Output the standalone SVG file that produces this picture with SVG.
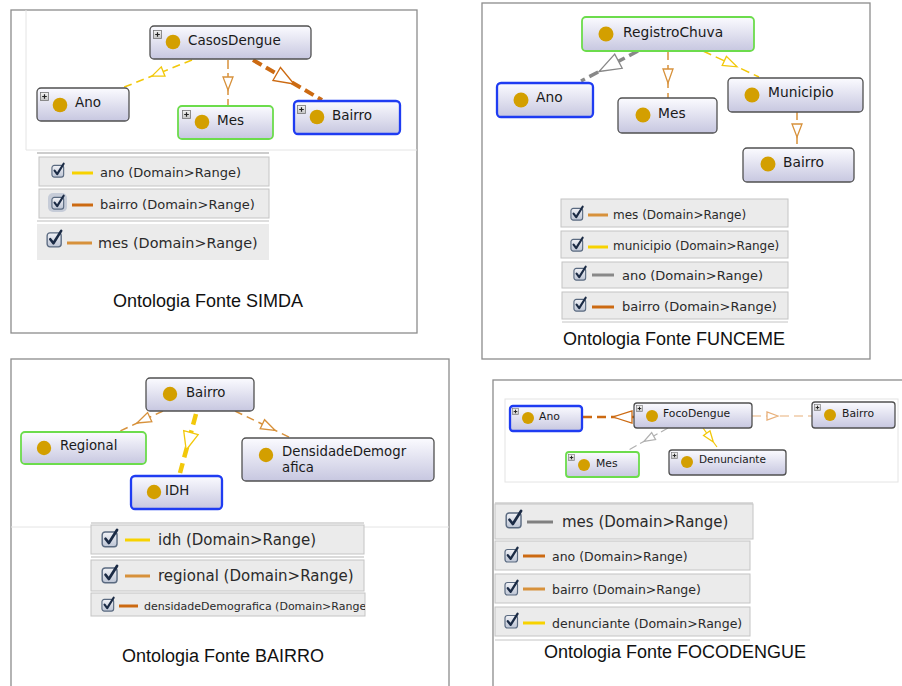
<svg xmlns="http://www.w3.org/2000/svg" xmlns:xlink="http://www.w3.org/1999/xlink" width="902" height="686" viewBox="0 0 902 686">
  <style>
    .frame { fill: #fff; stroke: #8c8c8c; stroke-width: 1.3; }
    .inner { fill: none; stroke: #e4e4e4; stroke-width: 1; }
    .box { fill: url(#nodeFill); stroke: #505050; stroke-width: 1.3; }
    .green .box { stroke: #6cdc4c; stroke-width: 1.8; }
    .blue .box { stroke: #1f3cf2; stroke-width: 2.3; }
    .dot { fill: #d39f00; }
    .lbl { font-family: "DejaVu Sans", "Liberation Sans", sans-serif; fill: #1a1a1a; }
    .row { fill: #ebebeb; stroke: #c4c4c4; stroke-width: 1; }
    .ltxt { font-family: "DejaVu Sans", "Liberation Sans", sans-serif; fill: #2a2a2a; }
    .caption { font-family: "Liberation Sans", Arial, sans-serif; font-size: 18px; fill: #111; }
    .edge { fill: none; }
    .head { fill: #fff; stroke-width: 1.3; stroke-linejoin: miter; }
    .yellow { stroke: #f2c80a; }
    .tan { stroke: #d7913b; }
    .rust { stroke: #cc6a12; }
    .gray { stroke: #888; }
    .lgray { stroke: #b0b0b0; }
    .ltan { stroke: #e8b07a; }
    .swatch { stroke-width: 3; }
  </style>
  <defs>
    <linearGradient id="nodeFill" x1="0" y1="0" x2="0" y2="1">
      <stop offset="0" stop-color="#fbfbff"/>
      <stop offset="1" stop-color="#c7c7e0"/>
    </linearGradient>
    <linearGradient id="plusFill" x1="0" y1="0" x2="0" y2="1">
      <stop offset="0" stop-color="#f4f4f4"/>
      <stop offset="1" stop-color="#c4c4c4"/>
    </linearGradient>
    <linearGradient id="cbFill" x1="0" y1="0" x2="0" y2="1">
      <stop offset="0" stop-color="#f2f3f7"/>
      <stop offset="1" stop-color="#bcc4d4"/>
    </linearGradient>
    <symbol id="plus" viewBox="0 0 9 9">
      <rect x="0.5" y="0.5" width="8" height="8" fill="url(#plusFill)" stroke="#777" stroke-width="0.8"/>
      <path d="M2.2 4.5h4.6M4.5 2.2v4.6" stroke="#222" stroke-width="1.2"/>
    </symbol>
    <symbol id="check" viewBox="0 0 16 16" overflow="visible">
      <rect x="1" y="2.5" width="12.5" height="12.5" rx="2.5" fill="url(#cbFill)" stroke="#5a6a80" stroke-width="1.2"/>
      <path d="M3.8 8.2L6.6 11.8L13.5 0.8" fill="none" stroke="#1b2b45" stroke-width="2.3" stroke-linecap="round" stroke-linejoin="round"/>
    </symbol>
    <clipPath id="clipRow">
      <rect x="91" y="593" width="274" height="23"/>
    </clipPath>
  </defs>

  <!-- panel frames -->
  <rect class="frame" x="11" y="10" width="406" height="323"/>
  <path class="inner" d="M26 10V150H417"/>
  <rect class="frame" x="482" y="3" width="388" height="356"/>
  <rect class="frame" x="11" y="359" width="438" height="335"/>
  <path class="inner" d="M11 527H449" stroke="#c8c8c8"/>
  <rect class="frame" x="493" y="380" width="420" height="314"/>
  <rect class="inner" x="505" y="399" width="393" height="83"/>

  <!-- connectors -->
  <g id="connectors">
    <!-- SIMDA -->
    <path class="edge yellow" d="M192 60L122 88" stroke-width="1.6" stroke-dasharray="8 5"/>
    <path class="head yellow" d="M0 0L-12 -5L-12 5Z" transform="translate(152 76) rotate(158.2)"/>
    <path class="edge tan" d="M228 60V106" stroke-width="1.5" stroke-dasharray="9 4"/>
    <path class="head tan" d="M0 0L-13 -5L-13 5Z" transform="translate(228 90) rotate(90)"/>
    <path class="edge rust" d="M253 60L322 100" stroke-width="4" stroke-dasharray="10 5"/>
    <path class="head rust" d="M0 0L-20 -7.5L-20 7.5Z" transform="translate(294 84) rotate(30.1)" stroke-width="1.6"/>
    <!-- FUNCEME -->
    <path class="edge gray" d="M638 51L581 81" stroke-width="3.5" stroke-dasharray="10 5"/>
    <path class="head gray" d="M0 0L-22 -8L-22 8Z" transform="translate(599 71.5) rotate(152.2)" stroke-width="1.4"/>
    <path class="edge tan" d="M668 51V98" stroke-width="1.5" stroke-dasharray="9 5"/>
    <path class="head tan" d="M0 0L-14 -5L-14 5Z" transform="translate(668 83) rotate(90)"/>
    <path class="edge yellow" d="M703 51L759 77" stroke-width="1.5" stroke-dasharray="9 5"/>
    <path class="head yellow" d="M0 0L-14 -5L-14 5Z" transform="translate(737 66.8) rotate(24.9)"/>
    <path class="edge tan" d="M797 112V148" stroke-width="1.5" stroke-dasharray="8 4"/>
    <path class="head tan" d="M0 0L-13 -5L-13 5Z" transform="translate(797 137) rotate(90)"/>
    <!-- BAIRRO -->
    <path class="edge tan" d="M163 411L120 431" stroke-width="1.5" stroke-dasharray="8 5"/>
    <path class="head tan" d="M0 0L-14 -5L-14 5Z" transform="translate(137 423) rotate(155.1)"/>
    <path class="edge yellow" d="M196 414L180 473" stroke-width="4.5" stroke-dasharray="11 6"/>
    <path class="head yellow" d="M0 0L-18 -7.5L-18 7.5Z" transform="translate(186.2 450) rotate(105.2)" stroke-width="1.6"/>
    <path class="edge tan" d="M235 411L291 438" stroke-width="1.5" stroke-dasharray="8 5"/>
    <path class="head tan" d="M0 0L-14 -5L-14 5Z" transform="translate(275 430.3) rotate(25.7)"/>
    <!-- FOCODENGUE -->
    <path class="edge rust" d="M634 417H582" stroke-width="2.5" stroke-dasharray="9 5"/>
    <path class="head rust" d="M0 0L-19 -6L-19 6Z" transform="translate(613 417) rotate(180)"/>
    <path class="edge ltan" d="M752 416H812" stroke-width="1.2" stroke-dasharray="9 5"/>
    <path class="head ltan" d="M0 0L-11 -4L-11 4Z" transform="translate(778 416)"/>
    <path class="edge lgray" d="M668 428L625 452" stroke-width="1.2" stroke-dasharray="8 4"/>
    <path class="head lgray" d="M0 0L-11 -4L-11 4Z" transform="translate(644 441.4) rotate(150.8)"/>
    <path class="edge yellow" d="M703 428L717 447" stroke-width="1.2" stroke-dasharray="6 3"/>
    <path class="head yellow" d="M0 0L-11 -4L-11 4Z" transform="translate(713.3 442) rotate(53.6)"/>
  </g>

  <!-- SIMDA nodes -->
  <g id="simda-casosdengue">
    <rect class="box" x="150" y="26" width="161" height="33" rx="4"/>
    <use href="#plus" x="153" y="30" width="9" height="9"/>
    <circle class="dot" cx="173" cy="42" r="7.3"/>
    <text class="lbl" x="188" y="45" font-size="13.5">CasosDengue</text>
  </g>
  <g id="simda-ano">
    <rect class="box" x="37" y="88" width="92" height="33" rx="4"/>
    <use href="#plus" x="40" y="92" width="9" height="9"/>
    <circle class="dot" cx="60" cy="105" r="7.3"/>
    <text class="lbl" x="75" y="107" font-size="13.5">Ano</text>
  </g>
  <g id="simda-mes" class="green">
    <rect class="box" x="178" y="106" width="95" height="33" rx="4"/>
    <use href="#plus" x="182" y="110" width="9" height="9"/>
    <circle class="dot" cx="202" cy="122" r="7.3"/>
    <text class="lbl" x="217" y="125" font-size="13.5">Mes</text>
  </g>
  <g id="simda-bairro" class="blue">
    <rect class="box" x="294" y="101" width="106" height="33" rx="4"/>
    <use href="#plus" x="297" y="105" width="9" height="9"/>
    <circle class="dot" cx="317" cy="117" r="7.3"/>
    <text class="lbl" x="332" y="120" font-size="13.5">Bairro</text>
  </g>

  <!-- SIMDA legend -->
  <path d="M37 153H269" stroke="#bdbdbd" stroke-width="1.5"/>
  <rect class="row" x="39" y="157" width="230" height="29"/>
  <use href="#check" x="51" y="163" width="15" height="15"/>
  <path class="swatch" d="M72 173H93" stroke="#f7d200"/>
  <text class="ltxt" x="100" y="177" font-size="13">ano (Domain&gt;Range)</text>
  <rect class="row" x="39" y="189" width="230" height="29"/>
  <rect x="48" y="193" width="19" height="19" rx="5" fill="#9aa6c0" opacity="0.45"/>
  <use href="#check" x="51" y="195" width="15" height="15"/>
  <path class="swatch" d="M72 205H93" stroke="#cc6a12"/>
  <text class="ltxt" x="100" y="209" font-size="13">bairro (Domain&gt;Range)</text>
  <path d="M37 221H269" stroke="#bdbdbd" stroke-width="1.2"/>
  <rect x="37" y="224" width="232" height="36" fill="#ebebeb"/>
  <use href="#check" x="46" y="230" width="18" height="18"/>
  <path class="swatch" d="M67 243H92" stroke="#d7913b"/>
  <text class="ltxt" x="98" y="248" font-size="14.4">mes (Domain&gt;Range)</text>
  <text class="caption" x="113" y="307">Ontologia Fonte SIMDA</text>

  <!-- FUNCEME nodes -->
  <g id="funceme-registrochuva" class="green">
    <rect class="box" x="582" y="17" width="172" height="34" rx="4"/>
    <circle class="dot" cx="606" cy="34" r="7.5"/>
    <text class="lbl" x="623" y="37" font-size="13.8">RegistroChuva</text>
  </g>
  <g id="funceme-ano" class="blue">
    <rect class="box" x="497" y="83" width="96" height="34" rx="4"/>
    <circle class="dot" cx="521" cy="100" r="7.5"/>
    <text class="lbl" x="536" y="102" font-size="13.8">Ano</text>
  </g>
  <g id="funceme-mes">
    <rect class="box" x="618" y="98" width="99" height="35" rx="4"/>
    <circle class="dot" cx="643" cy="115" r="7.5"/>
    <text class="lbl" x="658" y="118" font-size="13.8">Mes</text>
  </g>
  <g id="funceme-municipio">
    <rect class="box" x="728" y="78" width="135" height="34" rx="4"/>
    <circle class="dot" cx="752" cy="95" r="7.5"/>
    <text class="lbl" x="768" y="97" font-size="13.8">Municipio</text>
  </g>
  <g id="funceme-bairro">
    <rect class="box" x="743" y="148" width="111" height="34" rx="4"/>
    <circle class="dot" cx="768" cy="164" r="7.5"/>
    <text class="lbl" x="783" y="167" font-size="13.8">Bairro</text>
  </g>

  <!-- FUNCEME legend -->
  <rect class="row" x="561" y="199" width="227" height="28"/>
  <use href="#check" x="570" y="206" width="15" height="15"/>
  <path class="swatch" d="M588 215H608" stroke="#d7913b"/>
  <text class="ltxt" x="613" y="219" font-size="12">mes (Domain&gt;Range)</text>
  <rect class="row" x="561" y="231" width="227" height="27"/>
  <use href="#check" x="570" y="237" width="15" height="15"/>
  <path class="swatch" d="M588 247H608" stroke="#f7d200"/>
  <text class="ltxt" x="613" y="250" font-size="12">municipio (Domain&gt;Range)</text>
  <rect class="row" x="562" y="262" width="226" height="26"/>
  <use href="#check" x="573" y="266" width="15" height="15"/>
  <path class="swatch" d="M592 275H614" stroke="#888"/>
  <text class="ltxt" x="622" y="280" font-size="13">ano (Domain&gt;Range)</text>
  <rect class="row" x="562" y="292" width="226" height="27"/>
  <use href="#check" x="573" y="297" width="15" height="15"/>
  <path class="swatch" d="M592 307H614" stroke="#cc6a12"/>
  <text class="ltxt" x="622" y="311" font-size="13">bairro (Domain&gt;Range)</text>
  <path d="M562 322H788" stroke="#c4c4c4" stroke-width="1"/>
  <text class="caption" x="563" y="345">Ontologia Fonte FUNCEME</text>

  <!-- BAIRRO nodes -->
  <g id="bairro-bairro">
    <rect class="box" x="146" y="378" width="108" height="33" rx="4"/>
    <circle class="dot" cx="170" cy="394" r="7.2"/>
    <text class="lbl" x="186" y="397" font-size="13.3">Bairro</text>
  </g>
  <g id="bairro-regional" class="green">
    <rect class="box" x="21" y="432" width="125" height="32" rx="4"/>
    <circle class="dot" cx="44" cy="448" r="7.2"/>
    <text class="lbl" x="60" y="450" font-size="13.3">Regional</text>
  </g>
  <g id="bairro-idh" class="blue">
    <rect class="box" x="131" y="476" width="91" height="33" rx="4"/>
    <circle class="dot" cx="154" cy="492" r="7.2"/>
    <text class="lbl" x="165" y="495" font-size="13.3">IDH</text>
  </g>
  <g id="bairro-densidade">
    <rect class="box" x="242" y="438" width="192" height="43" rx="4"/>
    <circle class="dot" cx="266" cy="455" r="7.2"/>
    <text class="lbl" font-size="13.3"><tspan x="282" y="456">DensidadeDemogr</tspan><tspan x="282" y="471.5">afica</tspan></text>
  </g>

  <!-- BAIRRO legend -->
  <path d="M91 523H364" stroke="#b8b8b8" stroke-width="1.2"/>
  <rect class="row" x="91" y="525" width="273" height="29"/>
  <use href="#check" x="101" y="529" width="19" height="19"/>
  <path class="swatch" d="M125 540H150" stroke="#f7d200"/>
  <text class="ltxt" x="158" y="545" font-size="15">idh (Domain&gt;Range)</text>
  <path d="M91 557H364" stroke="#b8b8b8" stroke-width="1.2"/>
  <rect class="row" x="91" y="560" width="273" height="31"/>
  <use href="#check" x="101" y="565" width="19" height="19"/>
  <path class="swatch" d="M125 576H150" stroke="#d7913b"/>
  <text class="ltxt" x="158" y="581" font-size="15">regional (Domain&gt;Range)</text>
  <rect class="row" x="91" y="593" width="274" height="23"/>
  <use href="#check" x="101" y="597" width="15" height="15"/>
  <path class="swatch" d="M119 606H138" stroke="#cc6a12"/>
  <text class="ltxt" x="144" y="610" font-size="11" clip-path="url(#clipRow)">densidadeDemografica (Domain&gt;Range)</text>
  <text class="caption" x="122" y="662">Ontologia Fonte BAIRRO</text>

  <!-- FOCODENGUE nodes -->
  <g id="foco-ano" class="blue">
    <rect class="box" x="510" y="406" width="72" height="25" rx="3"/>
    <use href="#plus" x="512" y="408" width="7" height="7"/>
    <circle class="dot" cx="528" cy="418" r="6"/>
    <text class="lbl" x="539" y="420" font-size="10.8">Ano</text>
  </g>
  <g id="foco-focodengue">
    <rect class="box" x="634" y="403" width="118" height="25" rx="3"/>
    <use href="#plus" x="636" y="405" width="7" height="7"/>
    <circle class="dot" cx="652" cy="416" r="6"/>
    <text class="lbl" x="663" y="417" font-size="10.8">FocoDengue</text>
  </g>
  <g id="foco-bairro">
    <rect class="box" x="812" y="402" width="83" height="26" rx="3"/>
    <use href="#plus" x="814" y="404" width="7" height="7"/>
    <circle class="dot" cx="830" cy="415" r="6"/>
    <text class="lbl" x="842" y="417" font-size="10.8">Bairro</text>
  </g>
  <g id="foco-mes" class="green">
    <rect class="box" x="566" y="452" width="73" height="25" rx="3"/>
    <use href="#plus" x="568" y="454" width="7" height="7"/>
    <circle class="dot" cx="584" cy="465" r="6"/>
    <text class="lbl" x="596" y="467" font-size="10.8">Mes</text>
  </g>
  <g id="foco-denunciante">
    <rect class="box" x="669" y="450" width="117" height="25" rx="3"/>
    <use href="#plus" x="671" y="452" width="7" height="7"/>
    <circle class="dot" cx="687" cy="462" r="6"/>
    <text class="lbl" x="699" y="463" font-size="10.5">Denunciante</text>
  </g>

  <!-- FOCODENGUE legend -->
  <path d="M495 503H753" stroke="#b8b8b8" stroke-width="1.2"/>
  <rect class="row" x="495" y="504" width="258" height="35"/>
  <use href="#check" x="505" y="510" width="19" height="19"/>
  <path class="swatch" d="M527 522H553" stroke="#808080"/>
  <text class="ltxt" x="562" y="527" font-size="15">mes (Domain&gt;Range)</text>
  <rect class="row" x="495" y="541" width="255" height="29"/>
  <use href="#check" x="504" y="547" width="16" height="16"/>
  <path class="swatch" d="M523 556H545" stroke="#cc6a12"/>
  <text class="ltxt" x="552" y="561" font-size="12.5">ano (Domain&gt;Range)</text>
  <rect class="row" x="495" y="574" width="255" height="29"/>
  <use href="#check" x="504" y="580" width="16" height="16"/>
  <path class="swatch" d="M523 589H545" stroke="#d7913b"/>
  <text class="ltxt" x="552" y="594" font-size="12.5">bairro (Domain&gt;Range)</text>
  <rect class="row" x="495" y="607" width="255" height="29"/>
  <use href="#check" x="504" y="613" width="16" height="16"/>
  <path class="swatch" d="M523 623H545" stroke="#f7d200"/>
  <text class="ltxt" x="552" y="628" font-size="12.5">denunciante (Domain&gt;Range)</text>
  <path d="M495 640H750" stroke="#c4c4c4" stroke-width="1"/>
  <text class="caption" x="544" y="658">Ontologia Fonte FOCODENGUE</text>
</svg>
